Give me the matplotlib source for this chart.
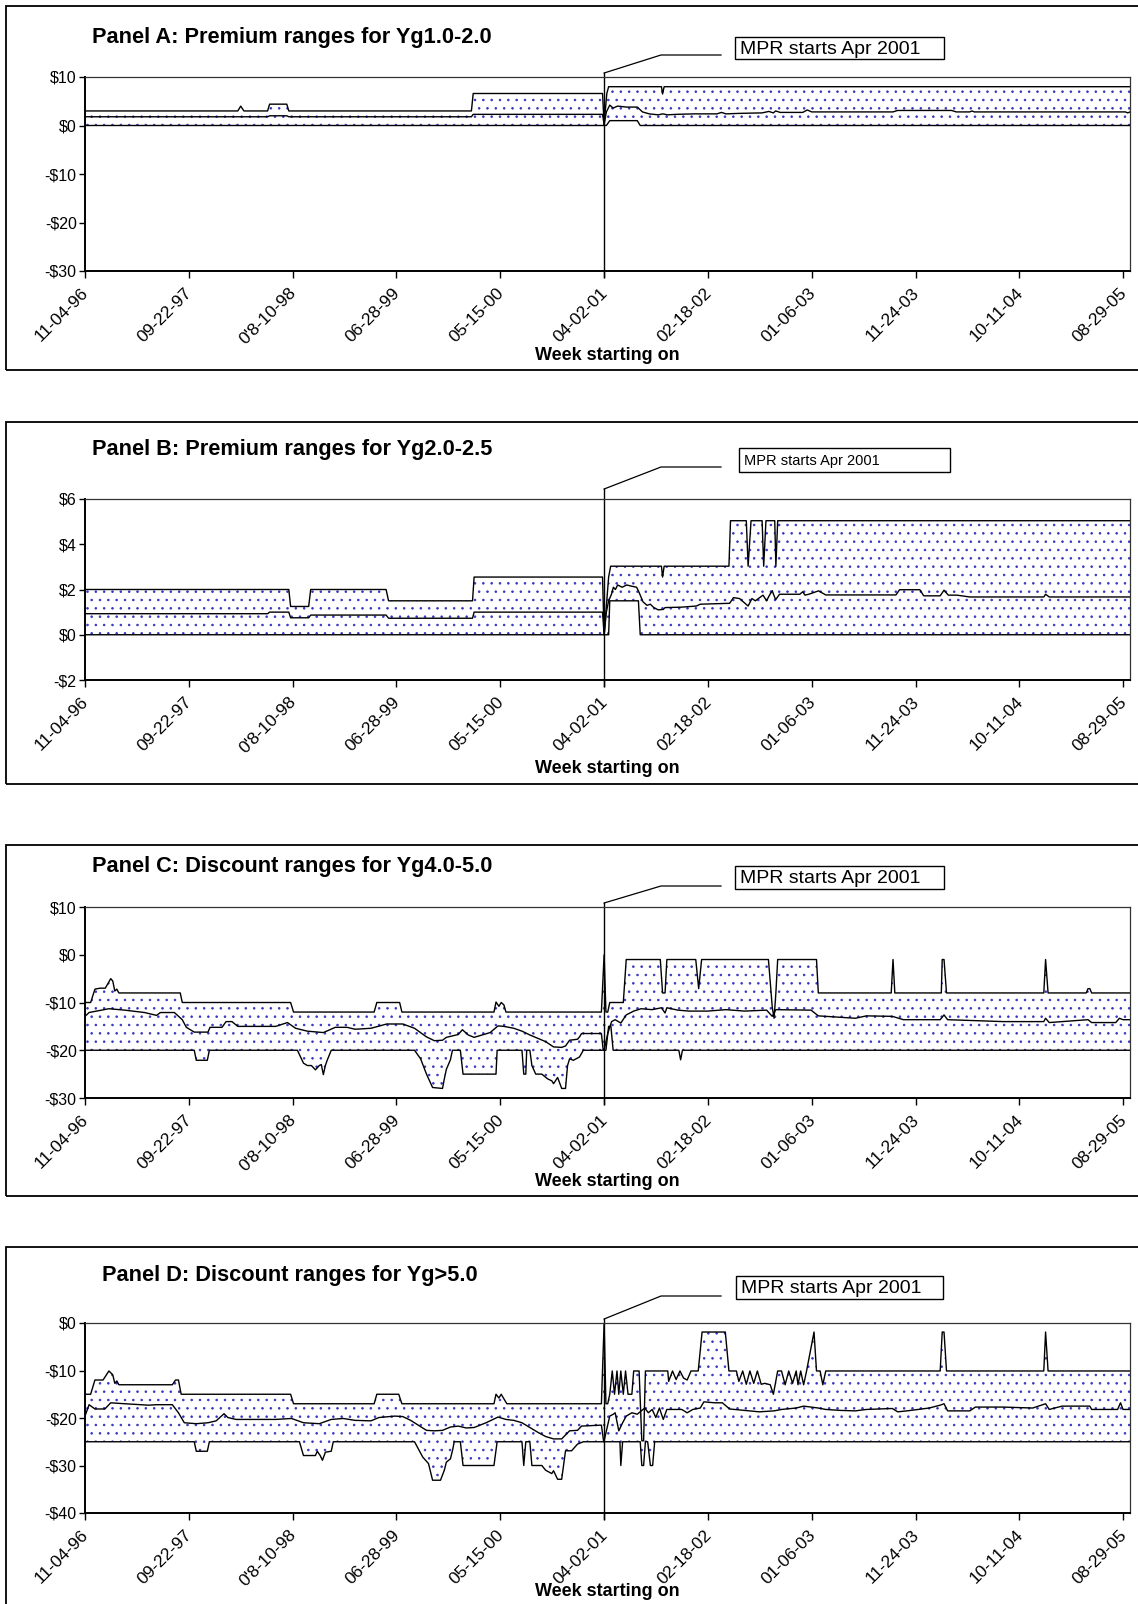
import numpy as np
import matplotlib
matplotlib.use('Agg')
import matplotlib.pyplot as plt
from matplotlib.patches import Rectangle
from matplotlib.lines import Line2D
from matplotlib.transforms import ScaledTranslation

plt.rcParams['font.family'] = ['Liberation Sans', 'DejaVu Sans']
plt.rcParams['hatch.linewidth'] = 0.6

W, H = 1138, 1604  # figure size in pixels

# x axis: week index (Excel category axis, a label every 46 weeks)
week_ticks = [0, 46, 92, 138, 184, 230, 276, 322, 368, 414, 460]
week_labels = ['11-04-96', '09-22-97', "0'8-10-98", '06-28-99', '05-15-00', '04-02-01',
               '02-18-02', '01-06-03', '11-24-03', '10-11-04', '08-29-05']
last_week = 463
mpr_week = 230

# ---------------- Panel A: premium ranges Yg1.0-2.0 ----------------
a_upper = [(0, 3), (67.7, 3), (69, 4), (70.4, 3), (80.9, 3), (81.8, 4.4), (89.4, 4.4), (90.3, 3),
           (171.2, 3), (172, 6.6), (229.3, 6.6), (230, 0.3), (231.2, 6.6), (232, 8), (255.4, 8),
           (255.9, 6.5), (256.6, 8), (463, 8)]
a_mid = [(0, 1.8), (80.9, 1.8), (81.8, 2.0), (89.4, 2.0), (90.3, 1.8), (171.2, 1.8), (172, 2.3),
         (229.3, 2.3), (230, 0.2), (231, 2.8), (232.5, 4.2), (234, 3.6), (236, 4.0), (240, 3.8),
         (244.7, 3.8), (247, 2.8), (250, 2.4), (254, 2.2), (256, 2.4), (258, 2.2), (262, 2.3),
         (270, 2.4), (280, 2.4), (282, 2.7), (284, 2.4), (290, 2.5), (300, 2.6), (303, 2.9),
         (305, 2.6), (306, 3.0), (308, 2.7), (318, 2.7), (320, 3.2), (322, 2.8), (358, 2.8),
         (360, 3.1), (384, 3.1), (386, 2.8), (392, 2.8), (393, 3.0), (394, 2.8), (461, 2.8),
         (462, 2.6), (463, 2.8)]
a_lower = [(0, 0), (230, 0), (231, 0), (232.5, 1.0), (244.7, 1.0), (246, 0), (463, 0)]

# ---------------- Panel B: premium ranges Yg2.0-2.5 ----------------
b_upper = [(0, 2.0), (90.3, 2.0), (91.1, 1.25), (99.1, 1.25), (100, 2.0), (133.4, 2.0), (134.5, 1.5),
           (171.7, 1.5), (172.4, 2.55), (229.3, 2.55), (230, 0), (232, 2.55), (232.9, 3.03),
           (255.4, 3.03), (255.9, 2.55), (256.6, 3.03), (285.3, 3.03), (286, 5.04), (293, 5.04),
           (293.8, 3.03), (295.1, 5.04), (300, 5.04), (300.7, 3.03), (301.7, 5.04), (305.6, 5.04),
           (306.1, 3.03), (306.9, 5.04), (463, 5.04)]
b_mid = [(0, 0.93), (80.9, 0.93), (81.8, 1.0), (90.3, 1.0), (91.1, 0.75), (99.1, 0.75), (100, 0.87),
         (133.4, 0.87), (134.5, 0.73), (171.7, 0.73), (172.4, 1.0), (229.3, 1.0), (230, 0), (231, 1.0),
         (232, 1.5), (233.3, 1.8), (234.1, 2.1), (235, 2.0), (236, 2.2), (238, 2.1), (240, 2.2),
         (242, 2.15), (244.4, 2.1), (245.5, 1.87), (247.2, 1.46), (249, 1.3), (250.5, 1.35), (252, 1.2),
         (254, 1.1), (256.2, 1.12), (257, 1.2), (264.4, 1.22), (270.9, 1.27), (272.6, 1.35),
         (279.1, 1.37), (285.6, 1.39), (287.3, 1.64), (290, 1.6), (293.8, 1.27), (295.5, 1.6),
         (297, 1.5), (300.4, 1.75), (302, 1.5), (303, 1.7), (304.5, 1.95), (305, 1.8), (306, 1.55),
         (307.7, 1.79), (316.7, 1.79), (318, 1.9), (319, 1.75), (321, 1.8), (325, 1.94), (328.2, 1.76),
         (359.3, 1.76), (360.9, 1.99), (369.9, 1.99), (371.6, 1.72), (378.9, 1.72), (380.6, 1.97),
         (382.5, 1.75), (386.3, 1.75), (392, 1.67), (424.8, 1.67), (425.6, 1.79), (427.2, 1.67),
         (463, 1.67)]
b_lower = [(0, 0), (230, 0), (232, 0), (232.5, 1.5), (245.2, 1.5), (246, 0), (463, 0)]

# ---------------- Panel C: discount ranges Yg4.0-5.0 ----------------
c_upper = [(0, -10), (2.5, -10), (4.4, -7.2), (6.7, -7.0), (9, -7.0), (11.4, -5.0), (12.3, -5.5),
           (13.2, -7.6), (14.1, -7.2), (15, -8), (42.2, -8), (43.1, -10), (91.1, -10), (92.4, -12),
           (128.1, -12), (129.3, -10), (139.4, -10), (140.4, -12), (181.2, -12), (182.1, -9.9),
           (183.4, -10.8), (184.4, -10), (185.6, -10.5), (186.5, -12), (228.8, -12), (230, 0),
           (230.8, -12), (231.6, -12), (232.5, -10), (238.5, -10), (239.8, -1), (254.9, -1),
           (255.9, -8), (257, -8), (257.8, -1), (270.6, -1), (271.9, -7.1), (273.2, -1), (302.8, -1),
           (304, -8), (304.5, -11), (305.3, -13.3), (306.1, -8), (306.9, -1), (324.1, -1), (324.9, -8),
           (357.2, -8), (358, -1), (358.8, -8), (379.4, -8), (379.8, -1), (380.6, -1), (381.7, -8),
           (424.8, -8), (425.6, -1), (426.7, -8), (443.6, -8), (444.4, -7.1), (445.2, -7.1),
           (446, -8), (463, -8)]
c_mid = [(0, -12.9), (1.8, -12.1), (10.6, -11.3), (17.6, -11.6), (21.1, -11.8), (26.4, -12.1),
         (31.7, -12.7), (33.4, -12.1), (39.6, -12.1), (43.1, -13.6), (44.9, -15.2), (48.4, -16.2),
         (54.5, -16.2), (55.4, -15.2), (60.7, -15.2), (62.5, -14.0), (65.1, -14.0), (67.7, -15.0),
         (84.5, -15.0), (89.7, -14.2), (93.3, -15.4), (98.5, -16.0), (105.6, -16.3), (110.9, -15.2),
         (116.1, -15.2), (119.7, -15.6), (126.7, -15.4), (133.7, -14.5), (140.8, -14.5),
         (146, -15.4), (151.3, -17.2), (154.8, -18.0), (158.4, -17.9), (160.1, -17.3),
         (165.4, -16.7), (167.2, -15.7), (169.8, -16.8), (172.4, -17.3), (179.5, -16.3),
         (183, -14.9), (185.6, -15.0), (190, -15.4), (193.6, -16.0), (197.1, -16.8), (200.6, -17.5),
         (204.1, -18.2), (207.6, -19.3), (211.2, -19.4), (212.9, -19.1), (214.7, -17.9),
         (218.2, -17.7), (219.1, -17.2), (220, -16.5), (228.8, -16.5), (229.6, -20), (230, -20),
         (231.6, -16.5), (233.3, -14.0), (234.9, -13.6), (237.4, -14.3), (239.8, -12.6),
         (243.1, -11.8), (246.4, -11.3), (251.3, -11.5), (255.4, -11.1), (257, -12.2),
         (257.8, -11.1), (262.7, -11.6), (267.6, -11.8), (275.8, -11.8), (284, -11.5),
         (292.2, -11.8), (302, -11.6), (304.5, -12.9), (306.1, -11.5), (321.7, -11.6),
         (324.9, -12.8), (341.3, -13.3), (346.2, -12.8), (357.7, -12.9), (362.6, -13.6),
         (378.9, -13.6), (380.6, -12.6), (382.2, -13.6), (406.8, -14.0), (424.8, -14.0),
         (425.6, -13.3), (427.2, -14.2), (444.4, -13.6), (446, -14.2), (456.7, -14.2),
         (458.3, -13.3), (459.9, -13.6), (463, -13.6)]
c_lower = [(0, -20), (48.4, -20), (49.3, -22.1), (54.2, -22.1), (55.1, -20), (94.1, -20),
           (96.8, -22.7), (98.5, -23.2), (100.3, -23.2), (102.1, -24.1), (103.8, -23.2),
           (104.7, -23.0), (105.6, -25.1), (106.5, -23.2), (107.3, -22.1), (109.1, -20), (146, -20),
           (148.7, -21.8), (151.3, -25), (154, -27.8), (158.4, -28), (159.2, -26), (160.1, -24),
           (161.9, -22), (162.8, -20), (166.3, -20), (167.5, -25), (182.1, -25), (182.6, -20),
           (193.6, -20), (194.4, -25), (195.3, -25), (195.7, -20), (197.1, -20), (198, -23.2),
           (199.7, -25), (202.4, -25), (205, -26), (206.8, -26.4), (207.6, -27), (209.4, -25.7),
           (211.2, -28), (212.9, -28), (213.8, -23.2), (214.7, -21.8), (216.4, -22.1),
           (219.1, -21.4), (220.8, -20), (230.8, -20), (232, -15), (233, -15), (234, -20),
           (263.1, -20), (263.9, -22), (264.7, -20), (463, -20)]

# ---------------- Panel D: discount ranges Yg>5.0 ----------------
d_upper = [(0, -15), (2.5, -15), (4.4, -12), (8, -12), (10.6, -10.1), (12.3, -10.9), (13.2, -12.7),
           (14.1, -12.2), (15, -13), (38.7, -13), (40.1, -12), (41.4, -12), (42.6, -15), (91.1, -15),
           (92.4, -17), (128.1, -17), (129.3, -15), (139, -15), (140.4, -17), (181.2, -17),
           (182.1, -15), (183.4, -15.8), (184.4, -15), (186.9, -17), (228.8, -17), (230, 0),
           (230.8, -17), (231.6, -17), (232.5, -15), (233.6, -10.1), (234.6, -15), (235.7, -10.1),
           (236.5, -15), (237.4, -10.1), (238.5, -15), (239.5, -10.1), (240.6, -15), (242.3, -15),
           (243.1, -10.1), (245.5, -10.1), (246.7, -24.8), (247.5, -24.8), (248.3, -10.1),
           (258.2, -10.1), (258.6, -12.3), (260.3, -10.1), (261.9, -11.9), (263.6, -10.1),
           (265.2, -11.6), (266.8, -12), (268.5, -10.1), (271.7, -10.1), (273.4, -1.9),
           (283.7, -1.9), (285.3, -10.1), (288.6, -10.1), (289.7, -12.3), (291.4, -10.1),
           (293, -12.9), (294.6, -10.1), (296.3, -12.7), (297.9, -10.1), (299.6, -12.9),
           (301.2, -12.7), (303.6, -13), (305, -15), (306.9, -10.1), (308.6, -10.1), (310.2, -13),
           (311.8, -10.1), (313.5, -12.7), (315.1, -10.1), (315.9, -13), (317.1, -10.1),
           (318.4, -13), (319.7, -10.1), (323, -1.9), (324.1, -10.1), (325.7, -10.1), (326.9, -13),
           (328.2, -10.1), (378.9, -10.1), (379.8, -1.9), (380.6, -1.9), (381.7, -10.1),
           (424.8, -10.1), (425.6, -1.9), (426.7, -10.1), (463, -10.1)]
d_mid = [(0, -19.6), (1.8, -17.2), (4.4, -18.1), (8.8, -18.1), (11.4, -16.8), (17.6, -17.0),
         (28.2, -17.3), (31.7, -17.2), (38.7, -17.2), (41.4, -18.9), (44, -21.0), (49.3, -21.2),
         (54.5, -21.0), (58.1, -20.6), (61.6, -19.1), (63.3, -19.9), (66.9, -20.3), (84.5, -20.3),
         (91.5, -20.1), (96.8, -21.0), (103.8, -21.2), (109.1, -20.3), (114.4, -20.1),
         (119.7, -20.5), (126.7, -20.6), (130.2, -19.9), (137.3, -19.6), (140.8, -19.7),
         (144.3, -20.5), (151.3, -22.6), (154.8, -22.7), (158.4, -22.6), (161.9, -21.9),
         (165.4, -21.7), (168.9, -22.1), (172.4, -22.0), (177.7, -21.0), (183, -19.8),
         (186.5, -20.3), (190, -20.5), (193.6, -21.0), (197.1, -22.0), (200.6, -23.0),
         (204.1, -23.9), (207.6, -24.4), (211.2, -24.4), (214.7, -22.7), (218.2, -22.6),
         (220, -21.7), (228.8, -21.5), (229.8, -25), (230, -24.8), (232.5, -19.6), (234.1, -19.2),
         (234.9, -18.9), (236.5, -22.7), (238.2, -21.0), (239.8, -19.6), (242.3, -18.9),
         (244.7, -19.2), (248, -17.9), (249.6, -18.9), (251.3, -18.2), (252.9, -19.9),
         (254.5, -17.9), (256.2, -20.3), (257.8, -18.2), (264.4, -18.2), (266.8, -18.9),
         (269.3, -18.2), (272.6, -17.9), (274.2, -16.6), (279.1, -16.8), (282.4, -16.8),
         (285.6, -18.1), (292.2, -18.4), (298.7, -18.7), (305.3, -18.5), (308.6, -18.2),
         (315.1, -17.9), (318.4, -17.5), (324.9, -17.9), (328.2, -18.2), (334.7, -18.4),
         (341.3, -18.5), (346.2, -18.2), (357.7, -18.0), (360.1, -18.7), (364.2, -18.5),
         (374, -17.9), (378.9, -17.3), (380.6, -17.0), (382.2, -18.5), (392, -18.5),
         (394.5, -17.7), (406.8, -17.7), (419.9, -17.9), (425.6, -17.0), (427.2, -18.2),
         (432.9, -17.5), (445.2, -17.5), (446, -18.2), (457.5, -18.2), (458.8, -16.8),
         (459.9, -18.2), (463, -18.2)]
d_lower = [(0, -25), (48.4, -25), (49.3, -27), (54.2, -27), (55.1, -25), (95, -25), (96.8, -27.9),
           (102.1, -27.9), (102.9, -27.0), (104.2, -27.9), (105.2, -28.9), (106.5, -27.2),
           (109.1, -27), (110, -25), (146, -25), (149.6, -28.2), (152.2, -29.6), (154, -33.1),
           (157.5, -33.1), (159.2, -31), (160.1, -29.3), (161.9, -28.6), (162.8, -26.9),
           (163.6, -25), (166.3, -25), (167.5, -30), (181.2, -30), (182.6, -25), (193.6, -25),
           (194.4, -30), (195.3, -25), (197.1, -25), (198, -30), (202.4, -30), (204.1, -31),
           (206.8, -31.7), (207.6, -31.1), (209.4, -32.9), (211.2, -32.9), (212.9, -26.9),
           (215.6, -26.9), (218.2, -25.5), (220.8, -25), (237, -25), (237.4, -30), (238.2, -25),
           (246, -25), (246.7, -30), (247.5, -30), (248.3, -25), (249.3, -25), (250.5, -30),
           (251.5, -30), (252.4, -25), (463, -25)]

titles = ['Panel A: Premium ranges for Yg1.0-2.0', 'Panel B: Premium ranges for Yg2.0-2.5',
          'Panel C: Discount ranges for Yg4.0-5.0', 'Panel D: Discount ranges for Yg>5.0']
yticks = [[10, 0, -10, -20, -30], [6, 4, 2, 0, -2], [10, 0, -10, -20, -30], [0, -10, -20, -30, -40]]
ylabels = [['\\$10', '\\$0', '-\\$10', '-\\$20', '-\\$30'],
           ['\\$6', '\\$4', '\\$2', '\\$0', '-\\$2'],
           ['\\$10', '\\$0', '-\\$10', '-\\$20', '-\\$30'],
           ['\\$0', '-\\$10', '-\\$20', '-\\$30', '-\\$40']]
series = [(a_upper, a_mid, a_lower), (b_upper, b_mid, b_lower),
          (c_upper, c_mid, c_lower), (d_upper, d_mid, d_lower)]
note_text = 'MPR starts Apr 2001'

# layout, pixel positions (y measured from the top of the image)
ax_top = [77, 499, 907, 1323]
ax_bot = [271, 680, 1098, 1513]
ax_left, ax_right = 85, 1130
frame_top = [5.7, 421.7, 845, 1247]
frame_bot = [370, 784, 1196, 1625]
title_y = [37, 449, 867, 1276]
title_x = [92, 92, 92, 102]
xlabel_y = [355, 769, 1181, 1592]
box = [(735, 37, 944, 59), (739, 448, 950, 472), (735, 866, 944, 889), (736, 1276, 943, 1299)]
box_fs = [14, 10.5, 14, 14]
leader_y = [55, 467, 886, 1296]
vline_up = [4, 10, 4, 4]


def fx(x):
    return x / W


def fy(y):
    return 1 - y / H


fig = plt.figure(figsize=(W / 100, H / 100), dpi=100)

for i in range(4):
    # outer frame of the panel (runs off the right edge like the original)
    fig.patches.append(Rectangle((fx(5.7), fy(frame_bot[i])), fx(1160 - 5.7),
                                 (frame_bot[i] - frame_top[i]) / H,
                                 transform=fig.transFigure, fill=False, edgecolor='black',
                                 lw=1.3, clip_on=False))

    ax = fig.add_axes([fx(ax_left), fy(ax_bot[i]), (ax_right - ax_left) / W,
                       (ax_bot[i] - ax_top[i]) / H])
    up, mid, lo = (np.array(s) for s in series[i])
    ax.fill(np.r_[up[:, 0], lo[::-1, 0]], np.r_[up[:, 1], lo[::-1, 1]],
            facecolor='white', edgecolor='#3535c0', hatch='..', lw=0)
    for s in (up, mid, lo):
        ax.plot(s[:, 0], s[:, 1], color='black', lw=1.0)

    ax.set_xlim(0, last_week)
    ax.set_ylim(min(yticks[i]), max(yticks[i]))
    ax.set_yticks(yticks[i])
    ax.set_yticklabels(ylabels[i])
    ax.set_xticks(week_ticks)
    ax.set_xticklabels(week_labels, rotation=45, ha='right', va='center', rotation_mode='anchor')
    ax.tick_params(axis='y', direction='out', length=4, width=1, pad=2, labelsize=11.5)
    ax.tick_params(axis='x', direction='out', length=5, width=1, pad=9, labelsize=12.5)
    for lab in ax.get_xticklabels():
        lab.set_transform(lab.get_transform() + ScaledTranslation(0.01, 0, fig.dpi_scale_trans))
    for side in ('left', 'bottom'):
        ax.spines[side].set_linewidth(1.4)
        ax.spines[side].set_color('black')
    for side in ('top', 'right'):
        ax.spines[side].set_linewidth(0.9)
        ax.spines[side].set_color('#333333')

    # MPR start marker
    frac_up = 1 + vline_up[i] / (ax_bot[i] - ax_top[i])
    frac_dn = -6 / (ax_bot[i] - ax_top[i])
    ax.plot([mpr_week, mpr_week], [frac_dn, frac_up], color='black', lw=1.0,
            transform=ax.get_xaxis_transform(), clip_on=False)
    start = fig.transFigure.inverted().transform(
        ax.get_xaxis_transform().transform((mpr_week, frac_up)))
    fig.lines.append(Line2D([start[0], fx(661), fx(721)], [start[1], fy(leader_y[i]), fy(leader_y[i])],
                            transform=fig.transFigure, color='black', lw=0.9))
    x0, y0, x1, y1 = box[i]
    fig.patches.append(Rectangle((fx(x0), fy(y1)), (x1 - x0) / W, (y1 - y0) / H,
                                 transform=fig.transFigure, fill=False, edgecolor='black', lw=1.0))
    fig.text(fx(x0 + 5), fy((y0 + y1) / 2 + 1), note_text, fontsize=box_fs[i], va='center', ha='left')

    fig.text(fx(title_x[i]), fy(title_y[i]), titles[i], fontsize=15.7, fontweight='bold',
             va='center', ha='left')
    fig.text(fx((ax_left + ax_right) / 2), fy(xlabel_y[i]), 'Week starting on', fontsize=13,
             fontweight='bold', va='center', ha='center')

fig.savefig('out.png', dpi=100)
